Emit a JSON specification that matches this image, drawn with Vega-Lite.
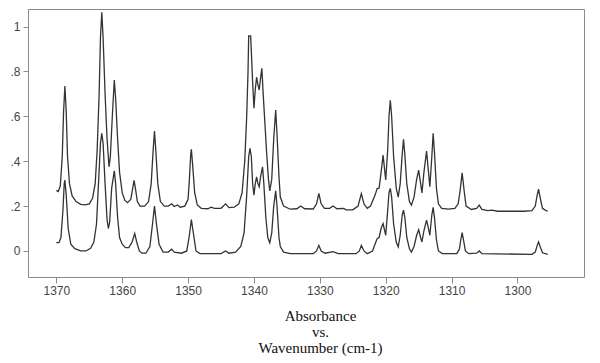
{
  "$schema": "https://vega.github.io/schema/vega-lite/v6.json",
  "width": 556,
  "height": 268,
  "autosize": {"type": "none"},
  "padding": {"left": 28, "top": 9, "right": 16, "bottom": 86},
  "background": "white",
  "config": {
    "view": {"stroke": "#8a8a8a", "strokeWidth": 1},
    "axis": {"grid": false, "domain": false, "labelFont": "Liberation Sans", "labelFontSize": 12, "labelColor": "#444", "tickColor": "#8a8a8a", "titleFontWeight": "normal"}
  },
  "data": {"values": [
    {"s":"A","w":1370.0,"a":0.27},{"s":"A","w":1369.7,"a":0.265},{"s":"A","w":1369.4,"a":0.29},{"s":"A","w":1369.1,"a":0.42},{"s":"A","w":1368.9,"a":0.62},{"s":"A","w":1368.7,"a":0.735},{"s":"A","w":1368.5,"a":0.62},{"s":"A","w":1368.3,"a":0.42},{"s":"A","w":1368.0,"a":0.30},{"s":"A","w":1367.6,"a":0.245},{"s":"A","w":1367.0,"a":0.22},{"s":"A","w":1366.3,"a":0.208},{"s":"A","w":1365.6,"a":0.205},{"s":"A","w":1365.0,"a":0.21},{"s":"A","w":1364.5,"a":0.235},{"s":"A","w":1364.1,"a":0.3},{"s":"A","w":1363.8,"a":0.45},{"s":"A","w":1363.5,"a":0.7},{"s":"A","w":1363.3,"a":0.95},{"s":"A","w":1363.1,"a":1.063},{"s":"A","w":1362.9,"a":0.95},{"s":"A","w":1362.6,"a":0.7},{"s":"A","w":1362.3,"a":0.5},{"s":"A","w":1362.0,"a":0.375},{"s":"A","w":1361.8,"a":0.42},{"s":"A","w":1361.5,"a":0.6},{"s":"A","w":1361.2,"a":0.762},{"s":"A","w":1361.0,"a":0.68},{"s":"A","w":1360.7,"a":0.5},{"s":"A","w":1360.4,"a":0.35},{"s":"A","w":1360.0,"a":0.26},{"s":"A","w":1359.6,"a":0.225},{"s":"A","w":1359.2,"a":0.215},{"s":"A","w":1358.7,"a":0.23},{"s":"A","w":1358.4,"a":0.28},{"s":"A","w":1358.2,"a":0.315},{"s":"A","w":1358.0,"a":0.28},{"s":"A","w":1357.7,"a":0.22},{"s":"A","w":1357.3,"a":0.2},{"s":"A","w":1356.6,"a":0.2},{"s":"A","w":1356.0,"a":0.22},{"s":"A","w":1355.6,"a":0.3},{"s":"A","w":1355.3,"a":0.45},{"s":"A","w":1355.1,"a":0.534},{"s":"A","w":1354.9,"a":0.45},{"s":"A","w":1354.6,"a":0.3},{"s":"A","w":1354.2,"a":0.22},{"s":"A","w":1353.6,"a":0.2},{"s":"A","w":1353.0,"a":0.2},{"s":"A","w":1352.5,"a":0.21},{"s":"A","w":1352.1,"a":0.198},{"s":"A","w":1351.6,"a":0.205},{"s":"A","w":1351.2,"a":0.195},{"s":"A","w":1350.5,"a":0.2},{"s":"A","w":1350.0,"a":0.23},{"s":"A","w":1349.8,"a":0.32},{"s":"A","w":1349.6,"a":0.43},{"s":"A","w":1349.5,"a":0.453},{"s":"A","w":1349.3,"a":0.38},{"s":"A","w":1349.0,"a":0.26},{"s":"A","w":1348.6,"a":0.205},{"s":"A","w":1348.0,"a":0.19},{"s":"A","w":1347.0,"a":0.188},{"s":"A","w":1346.5,"a":0.195},{"s":"A","w":1346.0,"a":0.19},{"s":"A","w":1345.0,"a":0.19},{"s":"A","w":1344.3,"a":0.21},{"s":"A","w":1343.8,"a":0.193},{"s":"A","w":1343.0,"a":0.195},{"s":"A","w":1342.3,"a":0.21},{"s":"A","w":1341.8,"a":0.26},{"s":"A","w":1341.4,"a":0.4},{"s":"A","w":1341.1,"a":0.6},{"s":"A","w":1340.9,"a":0.8},{"s":"A","w":1340.8,"a":0.958},{"s":"A","w":1340.5,"a":0.958},{"s":"A","w":1340.2,"a":0.75},{"s":"A","w":1340.0,"a":0.636},{"s":"A","w":1339.8,"a":0.72},{"s":"A","w":1339.6,"a":0.774},{"s":"A","w":1339.4,"a":0.74},{"s":"A","w":1339.2,"a":0.717},{"s":"A","w":1339.0,"a":0.77},{"s":"A","w":1338.8,"a":0.814},{"s":"A","w":1338.6,"a":0.7},{"s":"A","w":1338.3,"a":0.55},{"s":"A","w":1338.1,"a":0.45},{"s":"A","w":1337.8,"a":0.32},{"s":"A","w":1337.6,"a":0.268},{"s":"A","w":1337.3,"a":0.32},{"s":"A","w":1337.0,"a":0.5},{"s":"A","w":1336.7,"a":0.628},{"s":"A","w":1336.5,"a":0.52},{"s":"A","w":1336.2,"a":0.33},{"s":"A","w":1336.0,"a":0.24},{"s":"A","w":1335.5,"a":0.2},{"s":"A","w":1334.5,"a":0.186},{"s":"A","w":1333.5,"a":0.188},{"s":"A","w":1332.9,"a":0.2},{"s":"A","w":1332.3,"a":0.188},{"s":"A","w":1331.0,"a":0.187},{"s":"A","w":1330.5,"a":0.21},{"s":"A","w":1330.15,"a":0.256},{"s":"A","w":1329.8,"a":0.21},{"s":"A","w":1329.3,"a":0.19},{"s":"A","w":1328.5,"a":0.19},{"s":"A","w":1328.0,"a":0.2},{"s":"A","w":1327.4,"a":0.188},{"s":"A","w":1326.4,"a":0.19},{"s":"A","w":1326.0,"a":0.183},{"s":"A","w":1325.0,"a":0.183},{"s":"A","w":1324.2,"a":0.2},{"s":"A","w":1323.7,"a":0.256},{"s":"A","w":1323.3,"a":0.21},{"s":"A","w":1322.8,"a":0.19},{"s":"A","w":1322.3,"a":0.2},{"s":"A","w":1321.6,"a":0.25},{"s":"A","w":1321.3,"a":0.278},{"s":"A","w":1321.0,"a":0.28},{"s":"A","w":1320.7,"a":0.35},{"s":"A","w":1320.4,"a":0.427},{"s":"A","w":1320.0,"a":0.316},{"s":"A","w":1319.7,"a":0.45},{"s":"A","w":1319.5,"a":0.6},{"s":"A","w":1319.3,"a":0.671},{"s":"A","w":1319.1,"a":0.6},{"s":"A","w":1318.8,"a":0.42},{"s":"A","w":1318.4,"a":0.28},{"s":"A","w":1318.1,"a":0.24},{"s":"A","w":1317.8,"a":0.3},{"s":"A","w":1317.5,"a":0.43},{"s":"A","w":1317.3,"a":0.497},{"s":"A","w":1317.1,"a":0.43},{"s":"A","w":1316.8,"a":0.3},{"s":"A","w":1316.4,"a":0.22},{"s":"A","w":1316.1,"a":0.204},{"s":"A","w":1315.7,"a":0.24},{"s":"A","w":1315.3,"a":0.32},{"s":"A","w":1315.0,"a":0.36},{"s":"A","w":1314.7,"a":0.3},{"s":"A","w":1314.5,"a":0.259},{"s":"A","w":1314.2,"a":0.35},{"s":"A","w":1313.8,"a":0.445},{"s":"A","w":1313.5,"a":0.35},{"s":"A","w":1313.3,"a":0.286},{"s":"A","w":1313.0,"a":0.42},{"s":"A","w":1312.8,"a":0.524},{"s":"A","w":1312.6,"a":0.44},{"s":"A","w":1312.3,"a":0.28},{"s":"A","w":1312.0,"a":0.21},{"s":"A","w":1311.5,"a":0.19},{"s":"A","w":1310.5,"a":0.186},{"s":"A","w":1309.5,"a":0.19},{"s":"A","w":1309.0,"a":0.21},{"s":"A","w":1308.7,"a":0.27},{"s":"A","w":1308.4,"a":0.348},{"s":"A","w":1308.1,"a":0.27},{"s":"A","w":1307.8,"a":0.2},{"s":"A","w":1307.0,"a":0.185},{"s":"A","w":1306.2,"a":0.19},{"s":"A","w":1305.8,"a":0.204},{"s":"A","w":1305.4,"a":0.185},{"s":"A","w":1304.5,"a":0.18},{"s":"A","w":1303.9,"a":0.182},{"s":"A","w":1303.0,"a":0.177},{"s":"A","w":1299.0,"a":0.177},{"s":"A","w":1297.8,"a":0.18},{"s":"A","w":1297.3,"a":0.2},{"s":"A","w":1297.0,"a":0.25},{"s":"A","w":1296.8,"a":0.275},{"s":"A","w":1296.5,"a":0.23},{"s":"A","w":1296.2,"a":0.19},{"s":"A","w":1295.8,"a":0.182},{"s":"A","w":1295.4,"a":0.177},
    {"s":"B","w":1370.0,"a":0.037},{"s":"B","w":1369.6,"a":0.037},{"s":"B","w":1369.3,"a":0.06},{"s":"B","w":1369.0,"a":0.18},{"s":"B","w":1368.8,"a":0.3},{"s":"B","w":1368.7,"a":0.316},{"s":"B","w":1368.5,"a":0.25},{"s":"B","w":1368.2,"a":0.1},{"s":"B","w":1367.8,"a":0.03},{"s":"B","w":1367.2,"a":0.01},{"s":"B","w":1366.3,"a":0.0},{"s":"B","w":1365.5,"a":0.0},{"s":"B","w":1364.8,"a":0.012},{"s":"B","w":1364.3,"a":0.04},{"s":"B","w":1363.9,"a":0.12},{"s":"B","w":1363.6,"a":0.3},{"s":"B","w":1363.3,"a":0.48},{"s":"B","w":1363.1,"a":0.524},{"s":"B","w":1362.9,"a":0.48},{"s":"B","w":1362.6,"a":0.3},{"s":"B","w":1362.3,"a":0.14},{"s":"B","w":1362.1,"a":0.10},{"s":"B","w":1361.9,"a":0.13},{"s":"B","w":1361.6,"a":0.28},{"s":"B","w":1361.2,"a":0.357},{"s":"B","w":1361.0,"a":0.3},{"s":"B","w":1360.7,"a":0.15},{"s":"B","w":1360.4,"a":0.06},{"s":"B","w":1360.0,"a":0.03},{"s":"B","w":1359.5,"a":0.015},{"s":"B","w":1359.0,"a":0.015},{"s":"B","w":1358.5,"a":0.04},{"s":"B","w":1358.1,"a":0.078},{"s":"B","w":1357.8,"a":0.04},{"s":"B","w":1357.4,"a":0.0},{"s":"B","w":1357.0,"a":-0.01},{"s":"B","w":1356.4,"a":-0.01},{"s":"B","w":1355.8,"a":0.02},{"s":"B","w":1355.4,"a":0.12},{"s":"B","w":1355.1,"a":0.2},{"s":"B","w":1354.8,"a":0.12},{"s":"B","w":1354.4,"a":0.03},{"s":"B","w":1353.8,"a":-0.005},{"s":"B","w":1353.0,"a":-0.005},{"s":"B","w":1352.5,"a":0.008},{"s":"B","w":1352.1,"a":-0.005},{"s":"B","w":1351.0,"a":-0.01},{"s":"B","w":1350.2,"a":0.0},{"s":"B","w":1349.8,"a":0.07},{"s":"B","w":1349.5,"a":0.14},{"s":"B","w":1349.2,"a":0.08},{"s":"B","w":1348.8,"a":0.0},{"s":"B","w":1348.2,"a":-0.012},{"s":"B","w":1345.0,"a":-0.012},{"s":"B","w":1344.3,"a":0.0},{"s":"B","w":1343.8,"a":-0.01},{"s":"B","w":1342.8,"a":-0.005},{"s":"B","w":1342.0,"a":0.02},{"s":"B","w":1341.5,"a":0.08},{"s":"B","w":1341.1,"a":0.25},{"s":"B","w":1340.8,"a":0.42},{"s":"B","w":1340.6,"a":0.457},{"s":"B","w":1340.4,"a":0.42},{"s":"B","w":1340.2,"a":0.3},{"s":"B","w":1340.0,"a":0.249},{"s":"B","w":1339.8,"a":0.3},{"s":"B","w":1339.6,"a":0.33},{"s":"B","w":1339.4,"a":0.3},{"s":"B","w":1339.2,"a":0.286},{"s":"B","w":1339.0,"a":0.33},{"s":"B","w":1338.7,"a":0.375},{"s":"B","w":1338.5,"a":0.3},{"s":"B","w":1338.2,"a":0.15},{"s":"B","w":1337.9,"a":0.06},{"s":"B","w":1337.6,"a":0.036},{"s":"B","w":1337.3,"a":0.08},{"s":"B","w":1337.0,"a":0.2},{"s":"B","w":1336.7,"a":0.268},{"s":"B","w":1336.5,"a":0.2},{"s":"B","w":1336.2,"a":0.06},{"s":"B","w":1336.0,"a":0.02},{"s":"B","w":1335.5,"a":-0.005},{"s":"B","w":1334.5,"a":-0.012},{"s":"B","w":1331.0,"a":-0.012},{"s":"B","w":1330.5,"a":0.0},{"s":"B","w":1330.15,"a":0.025},{"s":"B","w":1329.8,"a":0.0},{"s":"B","w":1329.2,"a":-0.01},{"s":"B","w":1328.0,"a":-0.003},{"s":"B","w":1327.2,"a":-0.012},{"s":"B","w":1324.5,"a":-0.012},{"s":"B","w":1324.0,"a":0.0},{"s":"B","w":1323.7,"a":0.025},{"s":"B","w":1323.3,"a":0.0},{"s":"B","w":1322.8,"a":-0.012},{"s":"B","w":1322.0,"a":0.0},{"s":"B","w":1321.5,"a":0.04},{"s":"B","w":1321.3,"a":0.055},{"s":"B","w":1321.0,"a":0.06},{"s":"B","w":1320.7,"a":0.1},{"s":"B","w":1320.4,"a":0.122},{"s":"B","w":1320.0,"a":0.07},{"s":"B","w":1319.7,"a":0.18},{"s":"B","w":1319.5,"a":0.26},{"s":"B","w":1319.3,"a":0.279},{"s":"B","w":1319.1,"a":0.24},{"s":"B","w":1318.8,"a":0.12},{"s":"B","w":1318.4,"a":0.04},{"s":"B","w":1318.1,"a":0.018},{"s":"B","w":1317.8,"a":0.07},{"s":"B","w":1317.5,"a":0.16},{"s":"B","w":1317.3,"a":0.182},{"s":"B","w":1317.1,"a":0.15},{"s":"B","w":1316.8,"a":0.06},{"s":"B","w":1316.4,"a":0.01},{"s":"B","w":1316.1,"a":-0.005},{"s":"B","w":1315.7,"a":0.02},{"s":"B","w":1315.3,"a":0.07},{"s":"B","w":1315.0,"a":0.095},{"s":"B","w":1314.7,"a":0.06},{"s":"B","w":1314.5,"a":0.04},{"s":"B","w":1314.2,"a":0.09},{"s":"B","w":1313.8,"a":0.137},{"s":"B","w":1313.5,"a":0.1},{"s":"B","w":1313.3,"a":0.07},{"s":"B","w":1313.0,"a":0.16},{"s":"B","w":1312.8,"a":0.194},{"s":"B","w":1312.6,"a":0.15},{"s":"B","w":1312.3,"a":0.05},{"s":"B","w":1312.0,"a":0.0},{"s":"B","w":1311.4,"a":-0.012},{"s":"B","w":1309.2,"a":-0.012},{"s":"B","w":1308.8,"a":0.01},{"s":"B","w":1308.6,"a":0.05},{"s":"B","w":1308.4,"a":0.082},{"s":"B","w":1308.2,"a":0.05},{"s":"B","w":1307.9,"a":0.0},{"s":"B","w":1307.4,"a":-0.012},{"s":"B","w":1306.2,"a":-0.01},{"s":"B","w":1305.8,"a":0.0},{"s":"B","w":1305.4,"a":-0.012},{"s":"B","w":1297.8,"a":-0.015},{"s":"B","w":1297.3,"a":-0.005},{"s":"B","w":1297.0,"a":0.025},{"s":"B","w":1296.8,"a":0.04},{"s":"B","w":1296.5,"a":0.015},{"s":"B","w":1296.2,"a":-0.008},{"s":"B","w":1295.4,"a":-0.015}
  ]},
  "mark": {"type": "line", "color": "#333333", "strokeWidth": 1.3, "clip": true},
  "encoding": {
    "x": {
      "field": "w", "type": "quantitative",
      "scale": {"domain": [1289.9, 1374.3], "reverse": true, "nice": false, "zero": false},
      "axis": {
        "values": [1370, 1360, 1350, 1340, 1330, 1320, 1310, 1300],
        "format": "d",
        "tickSize": 6,
        "labelPadding": 2,
        "title": ["Absorbance", "vs.", "Wavenumber (cm-1)"],
        "titleFont": "Liberation Serif",
        "titleFontSize": 15,
        "titleColor": "#111",
        "titleLineHeight": 16,
        "titlePadding": 12,
        "titleX": 292,
        "titleAlign": "center"
      }
    },
    "y": {
      "field": "a", "type": "quantitative",
      "scale": {"domain": [-0.116, 1.078], "nice": false, "zero": false},
      "axis": {
        "values": [0, 0.2, 0.4, 0.6, 0.8, 1],
        "labelExpr": "datum.value == 0 ? '0' : datum.value == 1 ? '1' : replace(format(datum.value, '.1f'), '0.', '.')",
        "tickSize": 5,
        "labelPadding": 3,
        "title": null
      }
    },
    "detail": {"field": "s", "type": "nominal"}
  }
}
